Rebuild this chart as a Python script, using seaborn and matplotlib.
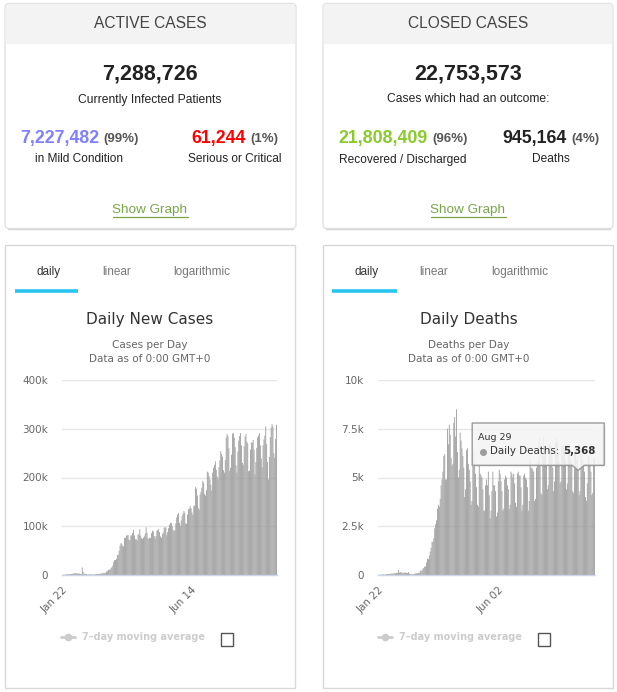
import numpy as np
import pandas as pd
import matplotlib
matplotlib.use("Agg")
import matplotlib.pyplot as plt
from matplotlib.patches import FancyBboxPatch, Rectangle, Polygon
from matplotlib.lines import Line2D
import seaborn as sns

# ------------------------------------------------------------------ data
start_date = "2020-01-22"
end_date = "2020-09-16"

# summary cards
active_title = "ACTIVE CASES"
active_total = "7,288,726"
active_caption = "Currently Infected Patients"
mild_value, mild_pct, mild_label = "7,227,482", "(99%)", "in Mild Condition"
serious_value, serious_pct, serious_label = "61,244", "(1%)", "Serious or Critical"

closed_title = "CLOSED CASES"
closed_total = "22,753,573"
closed_caption = "Cases which had an outcome:"
recovered_value, recovered_pct, recovered_label = "21,808,409", "(96%)", "Recovered / Discharged"
deaths_value, deaths_pct, deaths_label = "945,164", "(4%)", "Deaths"

tabs = ["daily", "linear", "logarithmic"]

# daily new cases, in thousands (week rows starting Wed Jan 22)
new_cases_k = [
    0.5, 0.3, 0.3, 0.7, 0.8, 1.4, 1.8,
    1.5, 1.7, 2.0, 2.1, 2.6, 2.8, 3.2,
    3.9, 3.7, 3.2, 3.4, 2.6, 3.0, 2.1,
    2.0, 15.1, 6.5, 2.1, 2.6, 2.1, 1.9,
    0.6, 0.9, 1.0, 1.5, 1.0, 0.6, 0.9,
    1.0, 1.3, 1.3, 1.8, 1.9, 2.0, 2.5,
    2.4, 2.8, 3.9, 4.0, 3.6, 3.9, 4.3,
    7.2, 7.5, 10.7, 10.9, 11.2, 14.1, 16.0,
    19.6, 26.9, 30.4, 30.8, 33.1, 41.0, 41.6,
    49.6, 60.0, 64.9, 64.3, 59.8, 58.8, 76.3,
    76.3, 81.1, 81.2, 82.2, 72.6, 71.9, 80.9,
    81.7, 86.0, 92.5, 81.3, 73.4, 73.4, 71.2,
    82.6, 84.0, 93.8, 80.6, 75.5, 73.9, 76.6,
    79.4, 84.5, 97.6, 86.9, 75.4, 73.9, 76.6,
    76.0, 86.0, 91.0, 89.0, 80.0, 75.0, 80.0,
    91.0, 92.0, 94.0, 88.0, 79.0, 76.0, 84.0,
    87.0, 97.0, 98.0, 97.0, 82.0, 88.0, 96.0,
    103.0, 107.0, 107.0, 101.0, 93.0, 90.0, 92.0,
    106.0, 118.0, 124.0, 127.0, 107.0, 101.0, 112.0,
    121.0, 126.0, 131.0, 128.0, 106.0, 105.0, 124.0,
    135.0, 136.0, 142.0, 137.0, 128.0, 123.0, 142.0,
    142.0, 180.0, 177.0, 163.0, 137.0, 134.0, 165.0,
    171.0, 179.0, 193.0, 189.0, 166.0, 163.0, 174.0,
    212.0, 210.0, 203.0, 196.0, 185.0, 173.0, 210.0,
    220.0, 226.0, 233.0, 216.0, 202.0, 196.0, 221.0,
    235.0, 254.0, 248.0, 243.0, 215.0, 210.0, 236.0,
    282.0, 289.0, 285.0, 260.0, 214.0, 220.0, 247.0,
    290.0, 291.0, 282.0, 262.0, 225.0, 210.0, 253.0,
    276.0, 285.0, 291.0, 266.0, 230.0, 226.0, 264.0,
    284.0, 289.0, 274.0, 270.0, 213.0, 214.0, 257.0,
    272.0, 271.0, 277.0, 257.0, 206.0, 232.0, 261.0,
    282.0, 286.0, 291.0, 266.0, 239.0, 221.0, 266.0,
    278.0, 286.0, 305.0, 269.0, 232.0, 196.0, 242.0,
    283.0, 302.0, 310.0, 305.0, 250.0, 241.0, 279.0,
    308.0,
]

# daily deaths by month
deaths_jan = [17, 1, 8, 16, 14, 26, 49, 2, 38, 42]
deaths_feb = [46, 45, 57, 64, 66, 73, 73, 86, 89, 97, 108, 97, 254, 121, 143,
              142, 106, 98, 139, 115, 118, 109, 97, 150, 71, 52, 29, 44, 37]
deaths_mar = [58, 67, 72, 84, 84, 105, 103, 231, 202, 233, 342, 350, 440, 434, 647,
              842, 815, 1000, 1200, 1400, 1700, 1700, 1900, 2400, 2600, 2800, 3400,
              3600, 3500, 3900, 4600]
deaths_apr = [4900, 5300, 6100, 6200, 4900, 4900, 7500, 6700, 7700, 7200, 6000, 5600,
              5700, 7800, 8100, 7100, 8500, 6300, 5000, 5400, 7300, 6900, 6500, 6100,
              5500, 4000, 4400, 6400, 6500, 5700]
deaths_may = [5400, 4800, 3600, 3800, 6000, 6400, 5700, 5200, 4500, 3600, 3500, 5600,
              5200, 5100, 5000, 4400, 3300, 3300, 4600, 4900, 4600, 5300, 4100, 2900,
              3300, 4300, 5300, 4600, 4600, 4300, 3000]
deaths_jun = [3200, 4800, 5400, 5200, 4800, 4300, 3300, 3400, 4900, 5100, 5000, 4600,
              4400, 3400, 3600, 5300, 5200, 5000, 5200, 4700, 3700, 3500, 5200, 5300,
              5100, 5100, 4500, 3300, 3600, 5100]
deaths_jul = [5200, 5000, 4900, 4500, 3300, 3800, 6000, 5500, 5500, 5400, 5300, 3800,
              3900, 5500, 5700, 5800, 7100, 5600, 4200, 4100, 6200, 7100, 6500, 6200,
              5600, 4400, 4600, 6700, 6800, 6600, 6300]
deaths_aug = [5500, 4300, 4800, 6800, 7000, 6800, 6300, 5800, 4700, 4800, 6600, 6600,
              6500, 6500, 5900, 4400, 4700, 6700, 6700, 6100, 5900, 5700, 4300, 4200,
              6400, 6400, 5900, 6100, 5368, 4100, 4300]
deaths_sep = [6200, 6500, 5900, 5700, 5300, 4000, 3800, 4700, 6100, 6100, 5700, 5300,
              4100, 4200, 6000, 6000]
new_deaths = (deaths_jan + deaths_feb + deaths_mar + deaths_apr + deaths_may +
              deaths_jun + deaths_jul + deaths_aug + deaths_sep)

cases_yticks = [0, 100000, 200000, 300000, 400000]
cases_ylabels = ["0", "100k", "200k", "300k", "400k"]
cases_xtick_labels = ["Jan 22", "Jun 14"]
deaths_yticks = [0, 2500, 5000, 7500, 10000]
deaths_ylabels = ["0", "2.5k", "5k", "7.5k", "10k"]
deaths_xtick_labels = ["Jan 22", "Jun 02"]

tooltip_date = "Aug 29"
tooltip_series = "Daily Deaths"

dates = pd.date_range(start_date, end_date, freq="D")
date_labels = [d.strftime("%b %d") for d in dates]
cases_df = pd.DataFrame({"day": date_labels, "value": np.array(new_cases_k) * 1000})
deaths_df = pd.DataFrame({"day": date_labels, "value": np.array(new_deaths, dtype=float)})

# ------------------------------------------------------------------ figure
sns.set_theme(style="white")
plt.rcParams["font.family"] = ["DejaVu Sans"]

W, H = 617, 692
fig = plt.figure(figsize=(W / 100, H / 100), dpi=100)
fig.patch.set_facecolor("white")


def frac(x0, y0, x1, y1):
    return [x0 / W, 1 - y1 / H, (x1 - x0) / W, (y1 - y0) / H]


bg = fig.add_axes([0, 0, 1, 1])
bg.set_xlim(0, W)
bg.set_ylim(H, 0)
bg.axis("off")

SANS = "Liberation Sans"


def card(x0, x1, title, total, caption, left, right, cx):
    bg.add_patch(FancyBboxPatch((x0, 3.5), x1 - x0, 225, boxstyle="round,pad=0,rounding_size=4",
                                fc="white", ec="#e2e2e2", lw=1, zorder=1))
    bg.plot([x0 + 3, x1 - 3], [228.8, 228.8], color="#d6d6d6", lw=1, zorder=1)
    bg.add_patch(FancyBboxPatch((x0 + 0.6, 4.1), x1 - x0 - 1.2, 40, boxstyle="round,pad=0,rounding_size=3.5",
                                fc="#f3f3f3", ec="none", zorder=2))
    bg.add_patch(Rectangle((x0 + 0.6, 30), x1 - x0 - 1.2, 14.1, fc="#f3f3f3", ec="none", zorder=2))
    bg.text(cx, 23, title, ha="center", va="center", fontsize=11.2, color="#444444", family=SANS, zorder=3)
    bg.text(cx, 74, total, ha="center", va="center", fontsize=15.5, color="#222222",
            fontweight="bold", family=SANS, zorder=3)
    bg.text(cx, 99.5, caption, ha="center", va="center", fontsize=8.7, color="#222222", family=SANS, zorder=3)
    for (val, pct, lab, col, xr, xl) in (left, right):
        bg.text(xr, 138, val, ha="right", va="center", fontsize=12.8, color=col,
                fontweight="bold", family=SANS, zorder=3)
        bg.text(xr + 4, 139, pct, ha="left", va="center", fontsize=9.5, color="#555555",
                fontweight="bold", family=SANS, zorder=3)
        bg.text(xl, 159.5, lab, ha="center", va="center", fontsize=8.6, color="#222222", family=SANS, zorder=3)
    bg.text(cx, 210, "Show Graph", ha="center", va="center", fontsize=9.7, color="#79A449",
            family=SANS, zorder=3)
    bg.plot([cx - 37.5, cx + 37.5], [217, 217], color="#79A449", lw=0.9, zorder=3)


card(5, 296, active_title, active_total, active_caption,
     (mild_value, mild_pct, mild_label, "#8080FF", 99, 79),
     (serious_value, serious_pct, serious_label, "#FF0000", 246, 235), 150)
card(323, 613, closed_title, closed_total, closed_caption,
     (recovered_value, recovered_pct, recovered_label, "#8ACA2B", 428, 403),
     (deaths_value, deaths_pct, deaths_label, "#222222", 567, 551), 468)


def panel(x0, x1, cx, title, subtitle, tab_x, underline):
    bg.add_patch(Rectangle((x0, 245), x1 - x0, 443, fc="white", ec="#d8d8d8", lw=1, zorder=1))
    for lab, tx in zip(tabs, tab_x):
        bg.text(tx, 272, lab, ha="center", va="center", fontsize=8.5, family=SANS,
                color="#333333" if lab == "daily" else "#777777", zorder=3)
    bg.plot(underline, [291, 291], color="#29C4F0", lw=2.6, solid_capstyle="butt", zorder=3)
    bg.text(cx, 319.5, title, ha="center", va="center", fontsize=11, color="#333333", zorder=3)
    bg.text(cx, 345, subtitle, ha="center", va="center", fontsize=7.5, color="#666666", zorder=3)
    bg.text(cx, 358.5, "Data as of 0:00 GMT+0", ha="center", va="center", fontsize=7.5,
            color="#666666", zorder=3)


panel(5, 295, 150, "Daily New Cases", "Cases per Day", [48.5, 116.5, 201.5], [15, 78])
panel(323, 613, 469, "Daily Deaths", "Deaths per Day", [366.5, 434, 520], [332, 397])


def legend(lx, cbx):
    bg.add_artist(Line2D([lx, lx + 14], [636.5, 636.5], color="#cccccc", lw=2, zorder=3))
    bg.add_artist(Line2D([lx + 7], [636.5], marker="o", markersize=4.5, color="#cccccc", zorder=3))
    bg.text(lx + 21, 636.5, "7\u2013day moving average", ha="left", va="center", fontsize=7,
            fontweight="bold", color="#cccccc", zorder=3)
    bg.add_patch(Rectangle((cbx, 633), 12, 13, fc="white", ec="#555555", lw=1, zorder=3))


legend(61, 221)
legend(378, 538)


def chart(x0, x1, df, yticks, ylabels, xlabels, ymax):
    ax = fig.add_axes(frac(x0, 380, x1, 575))
    sns.barplot(data=df, x="day", y="value", color="#989898", saturation=1, width=0.9,
                linewidth=0, errorbar=None, ax=ax)
    for p in ax.patches:
        p.set_snap(False)
    n = len(df)
    ax.set_xlim(-0.5, n - 0.5)
    ax.set_ylim(0, ymax)
    ax.set_facecolor("none")
    ax.set_yticks(yticks)
    ax.set_yticklabels(ylabels)
    ax.yaxis.grid(True, color="#e6e6e6", lw=1)
    ax.xaxis.grid(False)
    ax.set_axisbelow(True)
    pos = [date_labels.index(l) for l in xlabels]
    ax.set_xticks(pos)
    ax.set_xticklabels(xlabels, rotation=45, ha="right", rotation_mode="anchor")
    ax.tick_params(axis="y", length=0, pad=10, labelsize=7.5, labelcolor="#666666")
    ax.tick_params(axis="x", length=0, pad=7, labelsize=7.5, labelcolor="#666666")
    for s in ("top", "right", "left"):
        ax.spines[s].set_visible(False)
    ax.spines["bottom"].set_color("#ccd6eb")
    ax.spines["bottom"].set_linewidth(1)
    ax.set_xlabel("")
    ax.set_ylabel("")
    return ax


ax_cases = chart(62, 277, cases_df, cases_yticks, cases_ylabels, cases_xtick_labels, 400000)
ax_deaths = chart(378, 595, deaths_df, deaths_yticks, deaths_ylabels, deaths_xtick_labels, 10000)

# ------------------------------------------------------------------ tooltip
ov = fig.add_axes([0, 0, 1, 1])
ov.set_xlim(0, W)
ov.set_ylim(H, 0)
ov.axis("off")
ov.patch.set_alpha(0)

tip_idx = date_labels.index(tooltip_date)
tip_val = float(deaths_df["value"].iloc[tip_idx])
px, py = ax_deaths.transData.transform((tip_idx, tip_val))
tx, ty = px, H - py
bx0, bx1, by0, by1 = tx - 106, tx + 26, 423, ty - 5
ov.add_patch(FancyBboxPatch((bx0 + 1.5, by0 + 1.5), bx1 - bx0, by1 - by0, boxstyle="round,pad=0,rounding_size=3",
                            fc="#000000", alpha=0.08, ec="none"))
outline = [(bx0, by0), (bx1, by0), (bx1, by1), (tx + 6, by1), (tx, ty), (tx - 6, by1), (bx0, by1)]
ov.add_patch(Polygon(outline, closed=True, fc=(0.97, 0.97, 0.97, 0.88), ec="#9a9a9a", lw=1, joinstyle="round"))
ov.text(bx0 + 6, 438, tooltip_date, ha="left", va="center", fontsize=6.8, color="#333333")
ov.add_artist(Line2D([bx0 + 11], [451.5], marker="o", markersize=4, color="#9c9c9c"))
t1 = ov.text(bx0 + 18, 451.5, f"{tooltip_series}: ", ha="left", va="center", fontsize=7.4, color="#333333")
ov.annotate(f"{int(tip_val):,}", xycoords=t1, xy=(1, 0.5), ha="left", va="center", fontsize=7.4,
            fontweight="bold", color="#333333")

fig.savefig("out.png", dpi=100, facecolor="white")
